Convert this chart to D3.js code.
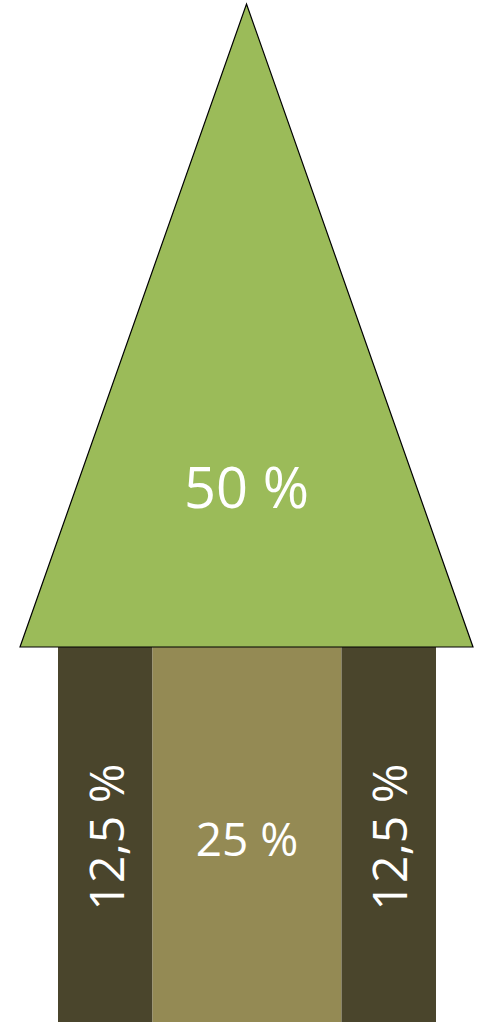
<!DOCTYPE html>
<html>
<head>
<meta charset="utf-8">
<script src="https://cdn.jsdelivr.net/npm/d3@7"></script>
<style>
    html, body { margin: 0; padding: 0; background: #ffffff; }
    svg { display: block; }
    .share-label { fill: #ffffff; font-family: "Open Sans", "Noto Sans", sans-serif; }
</style>
</head>
<body>
<svg id="chart"></svg>
<script>
(function() {
    'use strict';

    // Top part (crown)
    const crownLabel = '50 %';
    const crownValue = 50;

    // Bottom part (trunk), split left to right
    const trunkLabels = ['12,5 %', '25 %', '12,5 %'];
    const trunkValues = [12.5, 25, 12.5];
    const trunkColors = ['#4a452c', '#948a54', '#4a452c'];
    const trunkRotate = [true, false, true];

    const width = 477, height = 1022;

    const svg = d3.select('#chart')
        .attr('width', width)
        .attr('height', height);

    const trunkTotal = d3.sum(trunkValues);

    // x scale for the trunk segments
    const xTrunk = d3.scaleLinear()
        .domain([0, trunkTotal])
        .range([58, 436]);

    // x scale for the crown base (centered on the same axis)
    const xCrown = d3.scaleLinear()
        .domain([-crownValue / 2, crownValue / 2])
        .range([20, 473]);

    // vertical scale: crown apex -> crown base -> trunk bottom
    const y = d3.scaleLinear()
        .domain([0, 1, 2])
        .range([4, 647, 1022]);

    // trunk segments
    let acc = 0;
    const segments = trunkValues.map((v, i) => {
        const s = { value: v, start: acc, label: trunkLabels[i], color: trunkColors[i], rotate: trunkRotate[i] };
        acc += v;
        return s;
    });

    svg.selectAll('.trunk')
        .data(segments)
        .enter()
        .append('rect')
        .attr('class', 'trunk')
        .attr('x', d => xTrunk(d.start))
        .attr('y', y(1))
        .attr('width', d => xTrunk(d.start + d.value) - xTrunk(d.start))
        .attr('height', y(2) - y(1))
        .attr('fill', d => d.color);

    // crown triangle
    const apexX = xCrown(0);
    svg.append('path')
        .attr('d', d3.line()([
            [apexX, y(0)],
            [xCrown(crownValue / 2), y(1)],
            [xCrown(-crownValue / 2), y(1)]
        ]) + 'Z')
        .attr('fill', '#9bbb59')
        .attr('stroke', '#000000')
        .attr('stroke-width', 1.2)
        .attr('stroke-linejoin', 'miter');

    svg.append('text')
        .attr('class', 'share-label')
        .attr('x', apexX)
        .attr('y', 508)
        .attr('text-anchor', 'middle')
        .style('font-size', '56px')
        .text(crownLabel);

    // trunk labels
    svg.selectAll('.trunk-label')
        .data(segments)
        .enter()
        .append('text')
        .attr('class', 'share-label trunk-label')
        .attr('text-anchor', 'middle')
        .attr('dominant-baseline', 'central')
        .style('font-size', d => d.rotate ? '48px' : '46px')
        .attr('transform', d => {
            const cx = xTrunk(d.start + d.value / 2);
            const cy = d.rotate ? 837 : 838;
            return `translate(${cx},${cy})` + (d.rotate ? ' rotate(-90)' : '');
        })
        .text(d => d.label);
})();
</script>
</body>
</html>
